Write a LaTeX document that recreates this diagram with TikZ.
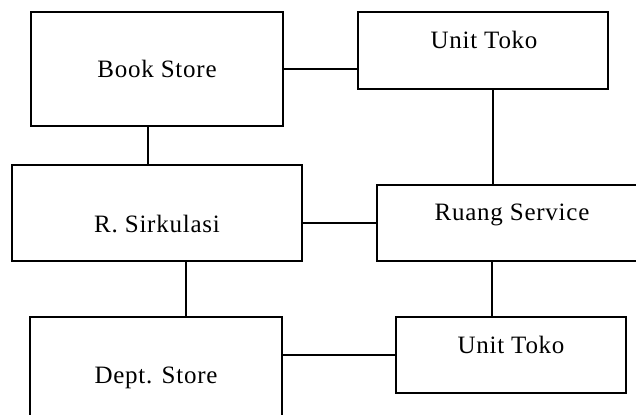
\documentclass[tikz,border=0pt]{standalone}
\usepackage{fontspec}
\setmainfont[LetterSpace=3]{Liberation Serif}
\usepackage{tikz}
\usetikzlibrary{fit}

\tikzset{
  kotak/.style={draw, inner sep=0pt, line width=0.7pt},
  label ruang/.style={anchor=base, inner sep=0pt, font=\fontsize{12.5}{14}\selectfont},
  garis/.style={line width=0.7pt}
}

\begin{document}
\begin{tikzpicture}[x=0.5pt, y=-0.5pt]
    \useasboundingbox (0,0) rectangle (636,414);
    \clip (0,0) rectangle (636,414);

    % ruang-ruang
    \node[kotak, fit={(31,12) (283,126)}] (book) {};
    \node[kotak, fit={(358,12) (608,89)}] (toko1) {};
    \node[kotak, fit={(12,165) (302,261)}] (sirk) {};
    \node[kotak, fit={(377,185) (680,261)}] (service) {};
    \node[kotak, fit={(30,317) (282,460)}] (dept) {};
    \node[kotak, fit={(396,317) (626,393)}] (toko2) {};

    % nama ruang
    \node[label ruang] (tBook) at (157,77) {Book Store};
    \node[label ruang] (tToko1) at (484,48) {Unit Toko};
    \node[label ruang] (tSirk) at (157,232) {R. Sirkulasi};
    \node[label ruang] (tService) at (512,220) {Ruang Service};
    \node[label ruang] (tToko2) at (511,353) {Unit Toko};
    \node[label ruang] (tDept) at (156,383) {Dept. Store};

    % hubungan
    \draw[garis] (book.east) -- (book.east -| toko1.west);
    \draw[garis] (148,0 |- book.south) -- (148,0 |- sirk.north);
    \draw[garis] (493,0 |- toko1.south) -- (493,0 |- service.north);
    \draw[garis] (service.west -| sirk.east) -- (service.west);
    \draw[garis] (186,0 |- sirk.south) -- (186,0 |- dept.north);
    \draw[garis] (492,0 |- service.south) -- (492,0 |- toko2.north);
    \draw[garis] (toko2.west -| dept.east) -- (toko2.west);
\end{tikzpicture}
\end{document}
